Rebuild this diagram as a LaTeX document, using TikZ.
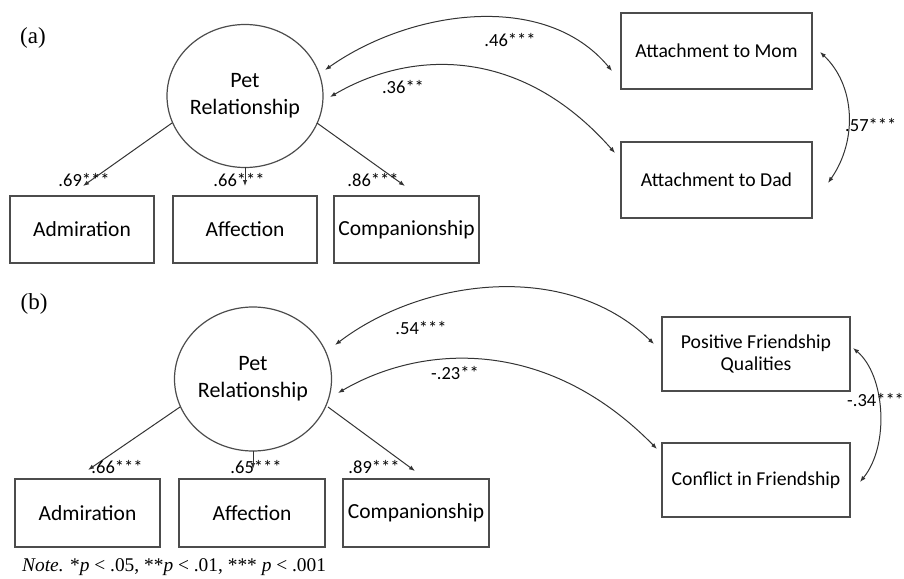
\documentclass[tikz,border=0pt]{standalone}
\usepackage{fontspec}
\setmainfont{Liberation Serif}
\newfontfamily\calib{Carlito}
\usetikzlibrary{arrows.meta,shapes.geometric}
\tikzset{
  box/.style={draw=black!70, line width=1.2pt, inner sep=0pt, align=center,
    font=\calib\fontsize{21.5}{22}\selectfont},
  rbox/.style={box, font=\calib\fontsize{19.7}{22}\selectfont},
  lat/.style={draw=black!70, line width=1.2pt, ellipse, inner sep=0pt, align=center,
    font=\calib\fontsize{22}{27}\selectfont},
  coef/.style={inner sep=0pt, font=\calib\fontsize{18.5}{20}\selectfont},
  tip/.style={-{Latex[length=6pt,width=4.5pt]}},
  arr/.style={tip, line width=1pt, draw=black!80},
  darr/.style={{Latex[length=6pt,width=4.5pt]}-{Latex[length=6pt,width=4.5pt]}, line width=1pt, draw=black!80},
  panel/.style={inner sep=0pt, font=\fontsize{23}{26}\selectfont}
}
\begin{document}
\begin{tikzpicture}[x=1pt,y=-1pt]
\useasboundingbox (0,0) rectangle (904,578);

% ---------- (a) ----------
\node[panel] (pa) at (33,38) {(a)};
\node[lat, minimum width=156pt, minimum height=143pt] (peta) at (245,96) {Pet\\Relationship};
\node[box, minimum width=144pt, minimum height=67pt] (adma) at (82,229.5) {Admiration};
\node[box, minimum width=144pt, minimum height=67pt] (affa) at (245,229.5) {Affection};
\node[box, minimum width=145pt, minimum height=67pt] (coma) at (406.5,229.5) {Companionship};
\node[rbox, minimum width=191pt, minimum height=76pt] (mom) at (716.5,51) {Attachment to Mom};
\node[rbox, minimum width=191pt, minimum height=76pt] (dad) at (716.5,180) {Attachment to Dad};

\coordinate (a1s) at (172,123); \coordinate (a1e) at (83,186);
\coordinate (a2s) at (245,167); \coordinate (a2e) at (245,186);
\coordinate (a3s) at (317,123); \coordinate (a3e) at (405,186);
\draw[arr] (a1s) -- (a1e);
\draw[arr] (a2s) -- (a2e);
\draw[arr] (a3s) -- (a3e);
\node[coef] (la1) at (84,180) {.69***};
\node[coef] (la2) at (239,180) {.66***};
\node[coef] (la3) at (373,180) {.86***};

\coordinate (amS) at (325,70); \coordinate (amE) at (612,71);
\coordinate (adS) at (330,97); \coordinate (adE) at (615,153);
\draw[darr] (amS) .. controls (410,10) and (545,-10) .. (amE);
\draw[darr] (adS) .. controls (410,50) and (520,45) .. (adE);
\coordinate (mdS) at (820,52); \coordinate (mdE) at (828,183);
\draw[darr] (mdS) .. controls (855,85) and (858,140) .. (mdE);
\node[coef] (lam) at (510,40) {.46***};
\node[coef] (lad) at (403,87) {.36**};
\node[coef, anchor=west] (lmd) at (845,125) {.57***};

% ---------- (b) ----------
\node[panel] (pb) at (34,304) {(b)};
\node[lat, minimum width=157pt, minimum height=144pt] (petb) at (253,379) {Pet\\Relationship};
\node[box, minimum width=145pt, minimum height=68pt] (admb) at (87.5,513) {Admiration};
\node[box, minimum width=146pt, minimum height=68pt] (affb) at (252,513) {Affection};
\node[box, minimum width=146pt, minimum height=68pt] (comb) at (416,513) {Companionship};
\node[rbox, minimum width=188pt, minimum height=74pt] (pos) at (756,354) {Positive Friendship\\Qualities};
\node[rbox, minimum width=188pt, minimum height=74pt] (con) at (756,480) {Conflict in Friendship};

\coordinate (b1s) at (180,407); \coordinate (b1e) at (88,470);
\coordinate (b2s) at (253,451); \coordinate (b2e) at (253,469);
\coordinate (b3s) at (328,407); \coordinate (b3e) at (415,471);
\draw[arr] (b1s) -- (b1e);
\draw[arr] (b2s) -- (b2e);
\draw[arr] (b3s) -- (b3e);
\node[coef] (lb1) at (117,467) {.66***};
\node[coef] (lb2) at (256,467) {.65***};
\node[coef] (lb3) at (374,467) {.89***};

\coordinate (bpS) at (335,345); \coordinate (bpE) at (654,344);
\coordinate (bcS) at (338,393); \coordinate (bcE) at (657,449);
\draw[darr] (bpS) .. controls (420,280) and (565,258) .. (bpE);
\draw[darr] (bcS) .. controls (420,345) and (545,335) .. (bcE);
\coordinate (pcS) at (853,348); \coordinate (pcE) at (860,482);
\draw[darr] (pcS) .. controls (885,375) and (890,445) .. (pcE);
\node[coef] (lbp) at (421,328) {.54***};
\node[coef] (lbc) at (455,373) {-.23**};
\node[coef, anchor=west] (lpc) at (847,400) {-.34***};

\node[anchor=west, inner sep=0pt, font=\fontsize{19.4}{21}\selectfont] (note) at (22,567)
  {\textit{Note.} *\textit{p} < .05, **\textit{p} < .01, *** \textit{p} < .001};
\end{tikzpicture}
\end{document}
